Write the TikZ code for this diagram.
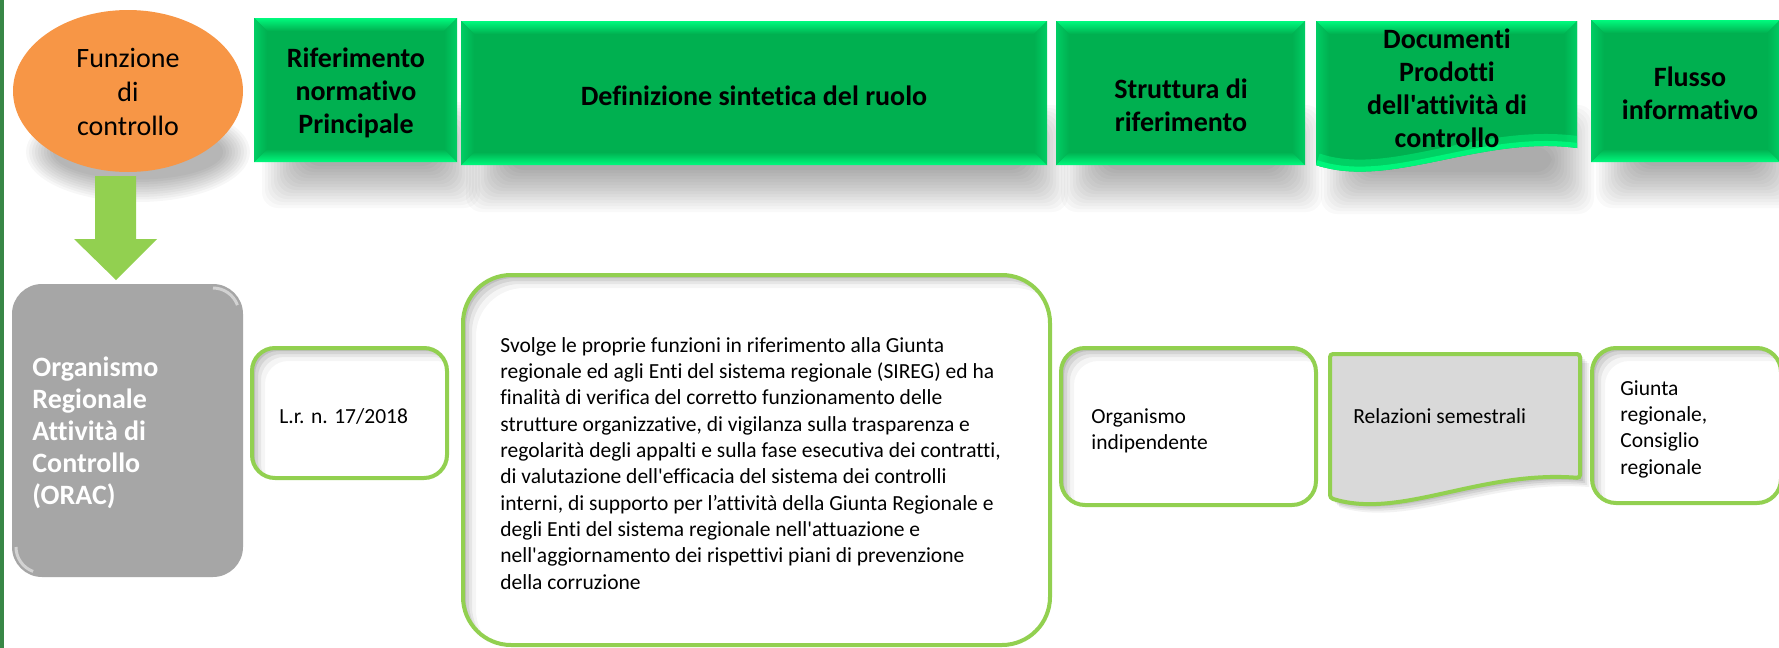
\documentclass[tikz,border=0pt]{standalone}
\usepackage{fontspec}
\setmainfont{Carlito}
\newfontfamily\calib{Carlito}[Ligatures=NoCommon]
\usetikzlibrary{calc}
\definecolor{basegreen}{RGB}{0,176,80}
\definecolor{brightgreen}{RGB}{0,250,125}
\definecolor{sidegreen}{RGB}{0,205,100}
\definecolor{linegreen}{RGB}{146,208,80}
\definecolor{oracgray}{RGB}{166,166,166}
\definecolor{docgray}{RGB}{217,217,217}
\definecolor{stripgreen}{RGB}{56,135,70}
\definecolor{orangeA}{RGB}{247,150,70}
\definecolor{orangeC}{RGB}{249,168,76}
\definecolor{orangeB}{RGB}{255,214,110}
\pgfdeclareradialshading{orangeglow}{\pgfpoint{0bp}{0bp}}{color(0bp)=(orangeA); color(36bp)=(orangeA); color(45bp)=(orangeC); color(50bp)=(orangeB)}

% soft blurred shadow: x1 y1 x2 y2
\newcommand\softshadow[4]{%
  \foreach \k in {0,...,14}{%
    \fill[black,opacity=0.023,rounded corners=8pt] ({#1+\k*3},{#2+\k*3}) rectangle ({#3-\k*3},{#4-\k*3});
  }}
% bevelled green header box: name x1 y1 x2 y2
\newcommand\bevelbox[5]{%
  \fill[basegreen] (#2,#3) rectangle (#4,#5);
  \shade[top color=brightgreen,bottom color=basegreen] (#2,#3) -- (#4,#3) -- ({#4-13},{#3+13}) -- ({#2+13},{#3+13}) -- cycle;
  \shade[top color=basegreen,bottom color=brightgreen] (#2,#5) -- (#4,#5) -- ({#4-13},{#5-13}) -- ({#2+13},{#5-13}) -- cycle;
  \shade[left color=sidegreen,right color=basegreen] (#2,#3) -- ({#2+13},{#3+13}) -- ({#2+13},{#5-13}) -- (#2,#5) -- cycle;
  \shade[left color=basegreen,right color=sidegreen] (#4,#3) -- ({#4-13},{#3+13}) -- ({#4-13},{#5-13}) -- (#4,#5) -- cycle;
  \coordinate (#1) at ({(#2+#4)/2},{(#3+#5)/2});
}
% white rounded box with green border and inner shadow: name x1 y1 x2 y2 radius
\newcommand\greenbox[6]{%
  \fill[white,rounded corners=#6] (#2,#3) rectangle (#4,#5);
  \begin{scope}
    \clip[rounded corners=#6] (#2,#3) rectangle (#4,#5);
    \foreach \d/\o in {3/0.10,6/0.08,9/0.06,13/0.04}{%
      \fill[black,opacity=\o,even odd rule] ({#2-60},{#3-60}) rectangle ({#4+60},{#5+60})
        [rounded corners=#6] ({#2+\d},{#3+\d}) rectangle ({#4+\d},{#5+\d});
    }
  \end{scope}
  \draw[linegreen,line width=2pt,rounded corners=#6] (#2,#3) rectangle (#4,#5);
  \coordinate (#1) at ({(#2+#4)/2},{(#3+#5)/2});
}

\begin{document}
\begin{tikzpicture}[x=0.5pt,y=-0.5pt,
  hdr/.style={font={\calib\bfseries\fontsize{14}{16.5}\selectfont},align=center,inner sep=0pt,text=black},
  fn/.style={font={\calib\fontsize{14}{16.8}\selectfont},align=center,inner sep=0pt,text=black},
  orac/.style={font={\calib\bfseries\fontsize{14}{16}\selectfont},align=left,inner sep=0pt,anchor=north west,text=white},
  body/.style={font={\calib\fontsize{10.75}{13.15}\selectfont},align=left,inner sep=0pt,anchor=north west,text=black}]
\useasboundingbox (0,0) rectangle (1779,648);
\fill[white] (0,0) rectangle (1779,648);

% left strip
\fill[stripgreen] (0,0) rectangle (4,648);

% shadows of header row
\foreach \k in {0,...,9}{%
  \fill[black,opacity=0.03] (138,152) ellipse [x radius={112-\k*3}, y radius={50-\k*2.5}];
}
\softshadow{262}{102}{480}{208}
\softshadow{466}{105}{1068}{212}
\softshadow{1061}{105}{1322}{212}
\softshadow{1321}{105}{1594}{214}
\softshadow{1596}{102}{1800}{208}

% orange oval
\shade[shading=orangeglow] (128,91) ellipse [x radius=115, y radius=81];
\node[fn] (fun) at (128,92) {Funzione\\di\\controllo};

% header boxes
\bevelbox{h1}{254}{18}{457}{162}
\node[hdr] (t1) at (356,93) {Riferimento\\normativo\\Principale};
\bevelbox{h2}{461}{21}{1047}{165}
\node[hdr] (t2) at (754,96) {Definizione sintetica del ruolo};
\bevelbox{h3}{1056}{21}{1305}{165}
\node[hdr] (t3) at (1181,105) {Struttura di\\riferimento};
% document-shaped header
\fill[basegreen] (1316,21) -- (1577,21) -- (1577,148) .. controls (1480,135) and (1390,190) .. (1316,165) -- cycle;
\begin{scope}
  \clip (1316,21) -- (1577,21) -- (1577,148) .. controls (1480,135) and (1390,190) .. (1316,165) -- cycle;
  \shade[top color=brightgreen,bottom color=basegreen] (1316,21) -- (1577,21) -- (1564,34) -- (1329,34) -- cycle;
  \shade[left color=sidegreen,right color=basegreen] (1316,21) -- (1329,34) -- (1329,160) -- (1316,178) -- cycle;
  \shade[left color=basegreen,right color=sidegreen] (1577,21) -- (1564,34) -- (1564,140) -- (1577,150) -- cycle;
  \draw[brightgreen,line width=12pt,opacity=0.45] (1577,148) .. controls (1480,135) and (1390,190) .. (1316,165);
  \draw[brightgreen,line width=5pt,opacity=0.9] (1577,148) .. controls (1480,135) and (1390,190) .. (1316,165);
\end{scope}
\node[hdr] (t4) at (1447,88) {Documenti\\Prodotti\\dell'attività di\\controllo};
\bevelbox{h5}{1591}{20}{1780}{162}
\node[hdr] (t5) at (1690,93) {Flusso\\informativo};

% arrow
\coordinate (atop) at (116,176);
\coordinate (atip) at (116,280);
\fill[linegreen] ($(atop)+(-21,0)$) -- ($(atop)+(20,0)$) -- ($(atip)+(20,-41)$) -- ($(atip)+(41,-41)$) -- (atip) -- ($(atip)+(-42,-41)$) -- ($(atip)+(-21,-41)$) -- cycle;

% ORAC grey box
\fill[oracgray,rounded corners=15pt] (12,284) rectangle (243,577);
\draw[white,opacity=0.5,line width=1.5pt] (213,288) arc[start angle=90,end angle=20,radius=13pt];
\draw[white,opacity=0.5,line width=1.5pt] (16,547) arc[start angle=180,end angle=250,radius=13pt];
\node[orac] (orac) at (32,356) {Organismo\\Regionale\\Attività di\\Controllo\\(ORAC)};

% L.r. box
\greenbox{b1}{252}{348}{447}{478}{11.5pt}
\node[body] (lr) at (279,408) {L.r. n. 17/2018};

% big description box
\greenbox{b2}{463}{275}{1050}{645}{24pt}
\node[body] (desc) at (500,337) {Svolge le proprie funzioni in riferimento alla Giunta\\
regionale ed agli Enti del sistema regionale (SIREG) ed ha\\
finalità di verifica del corretto funzionamento delle\\
strutture organizzative, di vigilanza sulla trasparenza e\\
regolarità degli appalti e sulla fase esecutiva dei contratti,\\
di valutazione dell'efficacia del sistema dei controlli\\
interni, di supporto per l’attività della Giunta Regionale e\\
degli Enti del sistema regionale nell'attuazione e\\
nell'aggiornamento dei rispettivi piani di prevenzione\\
della corruzione};

% Organismo indipendente
\greenbox{b3}{1061}{348}{1316}{505}{12pt}
\node[body] (oi) at (1091,408) {Organismo\\indipendente};

% Relazioni semestrali (document shape)
\foreach \s/\o in {9/0.05,7/0.06,5/0.07,3/0.08}{%
  \begin{scope}[shift={(\s,\s)}]
    \fill[black,opacity=\o] (1330,354) -- (1580,354) -- (1580,478) .. controls (1480,470) and (1400,520) .. (1330,498) -- cycle;
  \end{scope}
}
\fill[docgray] (1330,354) -- (1580,354) -- (1580,478) .. controls (1480,470) and (1400,520) .. (1330,498) -- cycle;
\draw[linegreen,line width=2pt,rounded corners=1.5pt] (1330,354) -- (1580,354) -- (1580,478) .. controls (1480,470) and (1400,520) .. (1330,498) -- cycle;
\node[body] (rs) at (1353,408) {Relazioni semestrali};

% Giunta / Consiglio
\greenbox{b5}{1592}{348}{1781}{503}{12pt}
\node[body] (gc) at (1620,380) {Giunta\\regionale,\\Consiglio\\regionale};
\end{tikzpicture}
\end{document}
